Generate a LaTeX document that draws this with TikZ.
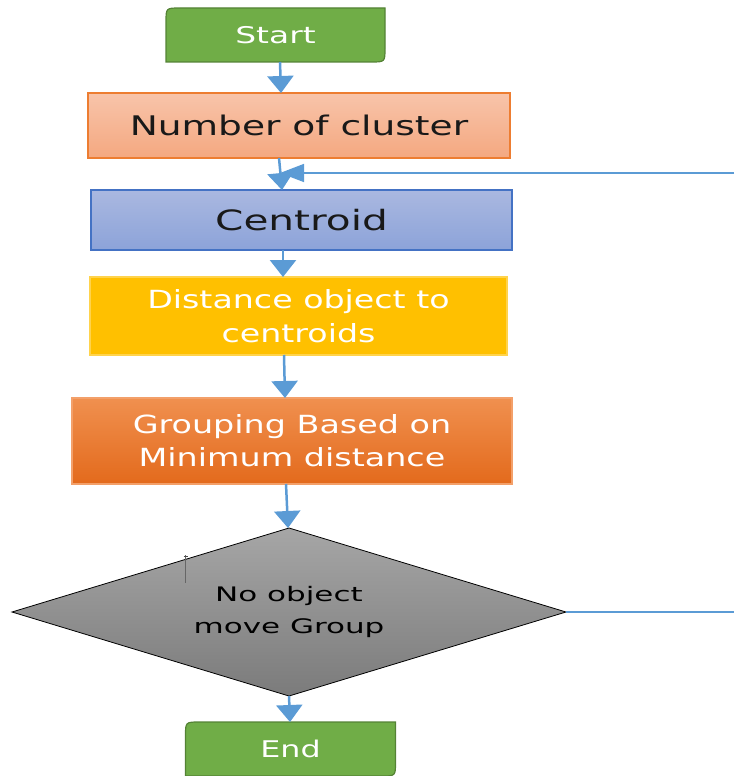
\documentclass[tikz,border=0pt]{standalone}
\usepackage{fontspec}
\setmainfont{DejaVu Sans}
\usetikzlibrary{arrows.meta,shapes.geometric,backgrounds}

\definecolor{flowblue}{HTML}{5B9BD5}
\definecolor{termgreen}{HTML}{70AD47}
\definecolor{termedge}{HTML}{548235}
\definecolor{salmontop}{HTML}{F8C4AA}
\definecolor{salmonbot}{HTML}{F4A880}
\definecolor{salmonedge}{HTML}{ED7D31}
\definecolor{bluetop}{HTML}{AAB8E0}
\definecolor{bluebot}{HTML}{8CA3D9}
\definecolor{blueedge}{HTML}{4472C4}
\definecolor{gold}{HTML}{FFC000}
\definecolor{orangetop}{HTML}{F0904F}
\definecolor{orangebot}{HTML}{E36A1C}
\definecolor{orangeedge}{HTML}{F3A06A}
\definecolor{graytop}{HTML}{A6A6A6}
\definecolor{graybot}{HTML}{7B7B7B}

% wide lettering as in the scan
\newcommand{\wide}[2][1.4]{\scalebox{#1}[1]{#2}}
% terminal box, round only at two corners
\newcommand{\termshape}[1]{%
  \filldraw[fill=termgreen,draw=termedge,line width=1.2pt]
    (#1.south west) -- ([yshift=-14pt]#1.north west)
    .. controls (#1.north west) .. ([xshift=14pt]#1.north west)
    -- (#1.north east) -- ([yshift=14pt]#1.south east)
    .. controls (#1.south east) .. ([xshift=-14pt]#1.south east) -- cycle;}

\begin{document}
\begin{tikzpicture}[x=1pt,y=-1pt,
  term/.style={minimum width=#1,minimum height=54pt,outer sep=0pt,
    text=white,font=\fontsize{23}{28}\selectfont},
  box/.style={rectangle,outer sep=0pt,line width=1.2pt,align=center},
  decision/.style={diamond,aspect=3.3,minimum width=554pt,minimum height=168pt,
    inner sep=0pt,outer sep=0pt,top color=graytop,bottom color=graybot,
    draw=black,line width=0.8pt,align=center,
    font=\fontsize{20}{32}\selectfont},
  flow/.style={draw=flowblue,line width=2.5pt,
    -{Triangle[length=17pt,width=26pt]}},
  back/.style={draw=flowblue,line width=1.5pt},
  backflow/.style={back,-{Triangle[length=24pt,width=18pt]}}]
\useasboundingbox (0,0) rectangle (734,776);

\node[term=219pt] (start) at (275.5,35) {\wide[1.43]{Start}};
\node[box,top color=salmontop,bottom color=salmonbot,draw=salmonedge,
  minimum width=422pt,minimum height=65pt,text=black!90,
  font=\fontsize{27}{32}\selectfont] (ncl) at (299,125.5)
  {\wide[1.39]{Number of cluster}};
\node[box,top color=bluetop,bottom color=bluebot,draw=blueedge,
  minimum width=421pt,minimum height=60pt,text=black!90,
  font=\fontsize{28}{32}\selectfont] (cen) at (301.5,220)
  {\wide[1.45]{Centroid}};
\node[box,fill=gold,draw=gold!70,minimum width=417pt,minimum height=78pt,
  text=white,font=\fontsize{25}{34}\selectfont] (dist) at (298.5,316)
  {\wide[1.33]{Distance object to}\\\wide[1.33]{centroids}};
\node[box,top color=orangetop,bottom color=orangebot,draw=orangeedge,
  minimum width=440pt,minimum height=86pt,text=white,
  font=\fontsize{25}{33}\selectfont] (grp) at (292,441)
  {\wide[1.335]{Grouping Based on}\\\wide[1.335]{Minimum distance}};
\node[decision] (dec) at (289,612)
  {\wide[1.55]{No object}\\\wide[1.55]{move Group}};
\node[term=210pt] (end) at (290.5,749) {\wide[1.38]{End}};

\begin{scope}[on background layer]
\termshape{start}
\termshape{end}
\end{scope}

% stray cursor mark in the scan
\draw[black!60,line width=1.3pt] (185.5,555) -- (185.5,583);
\draw[black!70,line width=1pt] (183.5,556) -- (187.5,556);

\draw[flow] (start.south -| 280,0) -- (ncl.north -| 281,0);
\draw[flow] (ncl.south -| 279,0) -- (cen.north -| 282,0);
\draw[flow] (cen.south -| 283,0) -- (dist.north -| 283,0);
\draw[flow] (dist.south -| 284,0) -- (grp.north -| 285,0);
\draw[flow] (grp.south -| 286,0) -- (dec.north -| 288,0);
\draw[flow] (dec.south -| 289,0) -- (end.north -| 290,0);

% loop back
\coordinate (fbout) at (734,612);
\coordinate (fbin) at (734,173);
\coordinate (fbjoin) at (280,173);
\draw[back] (dec.east) -- (fbout);
\draw[backflow] (fbin) -- (fbjoin);
\end{tikzpicture}
\end{document}
